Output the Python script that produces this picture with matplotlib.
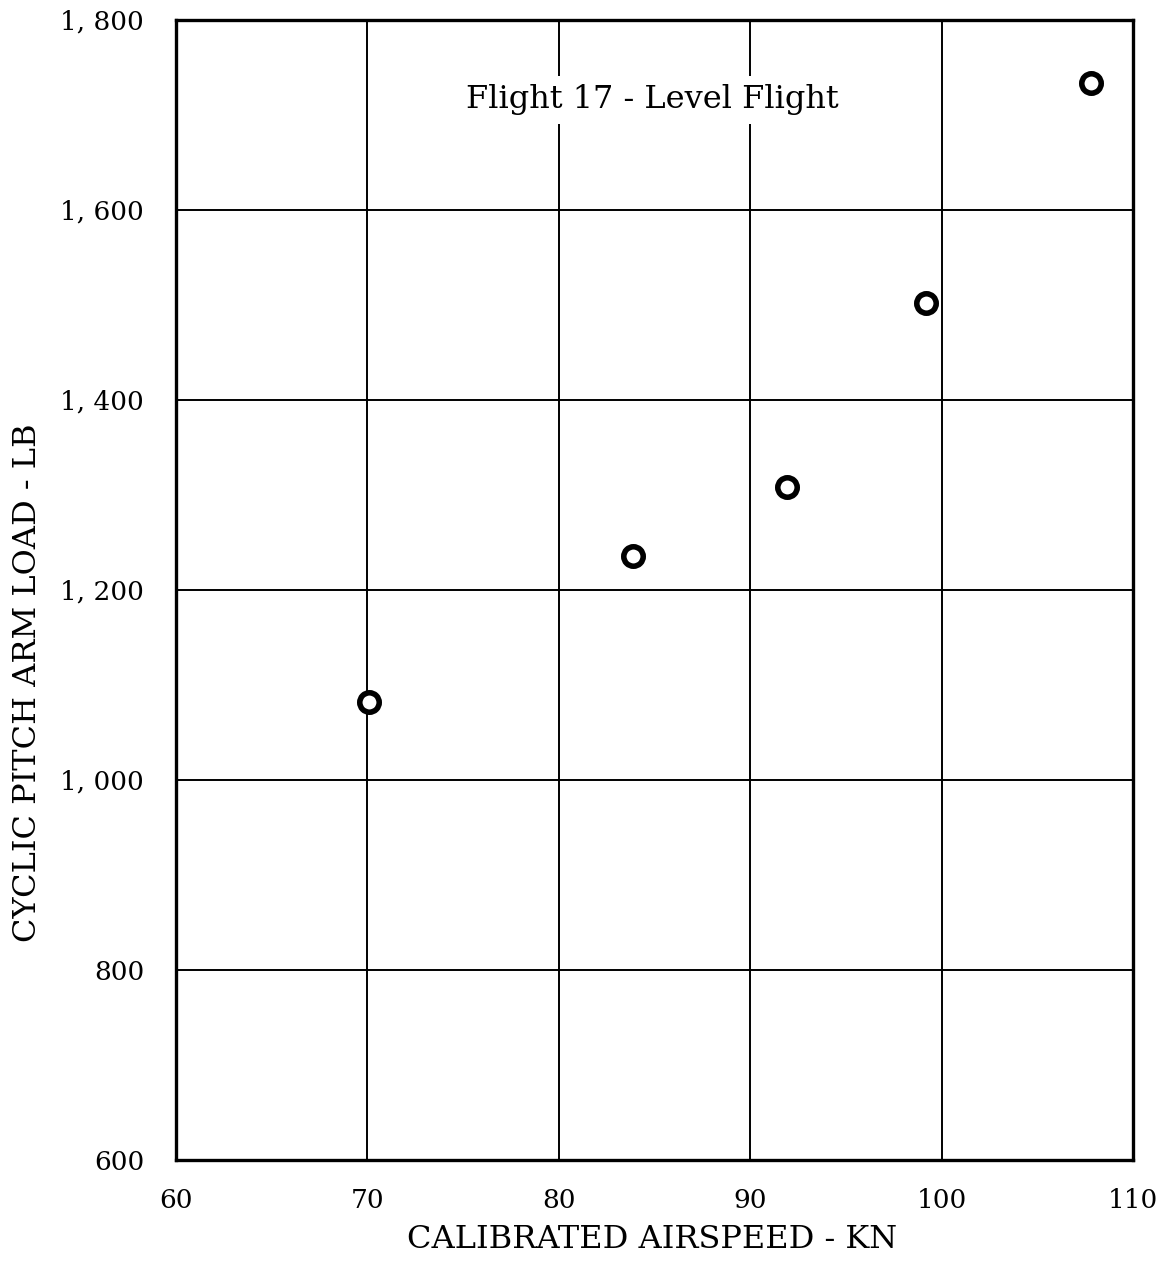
"""Cyclic pitch arm load vs calibrated airspeed, Flight 17 level flight."""

import matplotlib
matplotlib.use("Agg")
import matplotlib.pyplot as plt
from matplotlib.ticker import FuncFormatter

# data
airspeed_kn = [70.1, 83.9, 91.9, 99.2, 107.8]
arm_load_lb = [1082, 1236, 1308, 1502, 1734]

x_ticks = [60, 70, 80, 90, 100, 110]
y_ticks = [600, 800, 1000, 1200, 1400, 1600, 1800]

note = "Flight 17 - Level Flight"
x_label = "CALIBRATED AIRSPEED - KN"
y_label = "CYCLIC PITCH ARM LOAD - LB"

plt.rcParams["font.family"] = ["DejaVu Serif", "DejaVu Sans"]

fig = plt.figure(figsize=(11.65, 12.65), dpi=100)
ax = fig.add_axes([0.1511, 0.0830, 0.9725 - 0.1511, 0.9842 - 0.0830])

ax.set_xlim(60, 110)
ax.set_ylim(600, 1800)
ax.set_xticks(x_ticks)
ax.set_yticks(y_ticks)


def thousands(v, pos):
    v = int(round(v))
    if v >= 1000:
        return f"{v // 1000}, {v % 1000:03d}"
    return str(v)


ax.yaxis.set_major_formatter(FuncFormatter(thousands))
ax.tick_params(axis="both", length=0, labelsize=19, colors="black")
ax.tick_params(axis="y", pad=23)
ax.tick_params(axis="x", pad=20)

ax.grid(True, color="black", linewidth=1.4)
ax.set_axisbelow(True)
for sp in ax.spines.values():
    sp.set_linewidth(2.4)
    sp.set_color("black")

ax.plot(airspeed_kn, arm_load_lb, linestyle="none", marker="o",
        markersize=14, markerfacecolor="white", markeredgecolor="black",
        markeredgewidth=4, zorder=5)

ax.text(84.9, 1716, note, fontsize=23, ha="center", va="center",
        bbox=dict(facecolor="white", edgecolor="none", pad=6), zorder=4)

fig.text(0.5597, 0.020, x_label, fontsize=23, ha="center", va="center")
fig.text(0.024, 0.46, y_label, fontsize=23, ha="center", va="center",
         rotation=90)

fig.savefig("out.png", dpi=100, facecolor="white")
